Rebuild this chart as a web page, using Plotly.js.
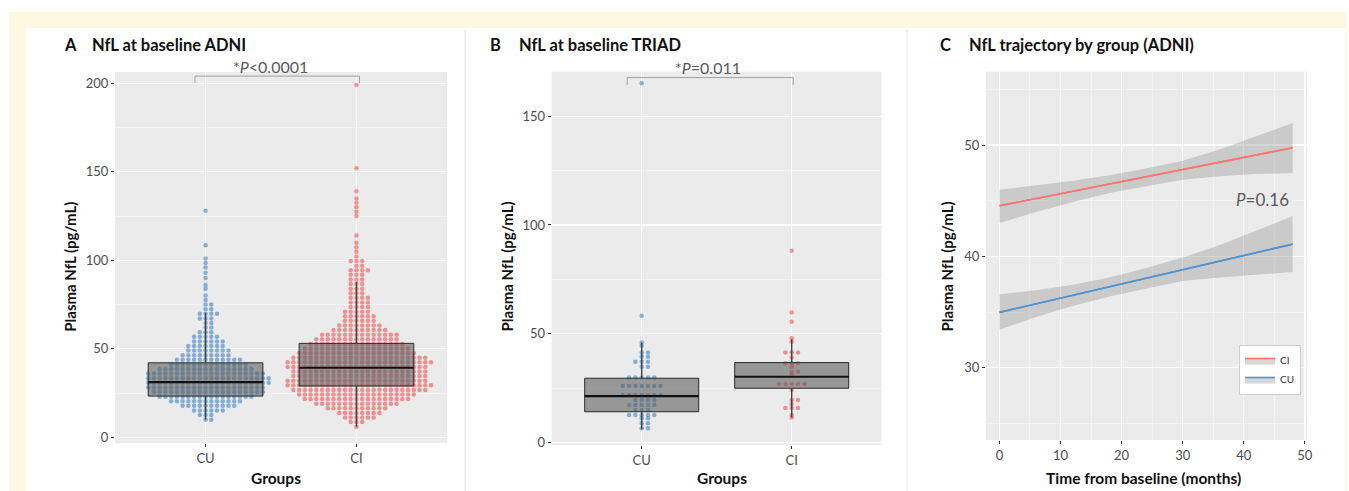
<!DOCTYPE html>
<html><head><meta charset="utf-8">
<script src="https://cdn.plot.ly/plotly-3.0.1.min.js"></script>
<style>html,body{margin:0;padding:0;background:#fff;} #chart{width:1349px;height:491px;}</style>
</head><body><div id="chart"></div>
<script>
// ---------- data ----------
const groups = ['CU', 'CI'];

// Panel A (ADNI) dot rows: value level and number of dots in that row
const cuALevels = [10, 12.6, 15.2, 17.8, 20.4, 23, 25.6, 28.2, 30.8, 33.4, 36, 38.6, 41.2, 43.8, 46.4, 49, 51.6, 54.2, 56.8, 59.4, 62, 64.6, 67.2, 69.8, 72.4, 75, 77.6, 80.2, 84, 86, 90, 93, 96, 98.5, 101, 108.5, 128];
const cuACounts = [2, 3, 6, 10, 13, 17, 20, 21, 22, 22, 21, 17, 14, 12, 9, 8, 7, 6, 5, 3, 2, 2, 3, 4, 2, 2, 1, 1, 1, 1, 1, 1, 1, 1, 1, 1, 1];
const ciALevels = [6, 8.6, 11.2, 13.8, 16.4, 19, 21.6, 24.2, 26.8, 29.4, 32, 34.6, 37.2, 39.8, 42.4, 45, 47.6, 50.2, 52.8, 55.4, 58, 60.6, 63.2, 65.8, 68.4, 71, 73.6, 76.2, 78.8, 81.4, 84, 86.6, 89.2, 91.8, 94.4, 97, 99.6, 102.2, 104.8, 107.4, 110, 114, 125, 127.5, 130, 132.5, 135, 139, 152, 199];
const ciACounts = [1, 3, 6, 8, 11, 15, 19, 21, 24, 26, 25, 24, 24, 25, 26, 24, 21, 19, 17, 15, 14, 10, 8, 6, 6, 5, 4, 4, 4, 3, 3, 3, 3, 3, 4, 2, 3, 1, 1, 1, 1, 1, 1, 1, 1, 1, 1, 1, 1, 1];
// box statistics A (CU, CI)
const aQ1 = [23.3, 29.0], aMed = [31.2, 39.3], aQ3 = [42.1, 53.1], aLo = [10.0, 6.0], aHi = [70.5, 87.9];

// Panel B (TRIAD)
const cuBLevels = [6.5, 8.8, 11.1, 12.6, 14.9, 17.2, 19.5, 21.8, 25.9, 29.8, 34.8, 37.1, 39.4, 41.4, 44.5, 46.0, 58.3, 165.2];
const cuBCounts = [2, 2, 2, 5, 3, 5, 4, 7, 7, 5, 2, 3, 2, 2, 1, 1, 1, 1];
const ciBLevels = [11.5, 12.6, 15.8, 17.7, 19.5, 24.1, 26.9, 31.0, 32.5, 34.8, 36.4, 39.1, 41.3, 46.3, 47.9, 55.5, 59.8, 88.2];
const ciBCounts = [1, 1, 3, 1, 2, 1, 5, 1, 2, 1, 3, 1, 3, 1, 1, 1, 1, 1];
const bQ1 = [14.1, 24.9], bMed = [21.3, 30.2], bQ3 = [29.5, 36.7], bLo = [6.0, 11.5], bHi = [45.8, 47.4];

// Panel C (trajectory)
const months = [0, 6, 12, 18, 24, 30, 36, 42, 48];
const ciFit = [44.55, 45.2, 45.85, 46.5, 47.15, 47.8, 48.45, 49.1, 49.76];
const ciUpper = [46.0, 46.4, 46.8, 47.3, 47.9, 48.6, 49.6, 50.8, 52.0];
const ciLower = [43.0, 44.0, 44.9, 45.7, 46.3, 46.9, 47.2, 47.4, 47.5];
const cuFit = [34.97, 35.74, 36.5, 37.27, 38.03, 38.8, 39.57, 40.33, 41.1];
const cuUpper = [36.6, 36.95, 37.45, 38.1, 38.95, 39.9, 41.0, 42.3, 43.6];
const cuLower = [33.4, 34.55, 35.55, 36.4, 37.1, 37.8, 38.1, 38.35, 38.6];

// ---------- styles ----------
const W = 1349, H = 491;
const RED = '#F8766D', BLUE = '#4F93CF';
const PT_RED = 'rgba(240,84,84,0.6)', PT_BLUE = 'rgba(62,132,200,0.6)';
const FONT = 'Lato, "Open Sans", sans-serif';
const dom = (a, b) => [a / W, b / W];
const domY = (top, bot) => [1 - bot / H, 1 - top / H];

function swarm(levels, counts, center, step) {
  const xs = [], ys = [];
  levels.forEach((v, i) => {
    for (let k = 0; k < counts[i]; k++) {
      const m = k === 0 ? 0 : (k % 2 === 1 ? (k + 1) / 2 : -k / 2);
      xs.push(center + m * step); ys.push(v);
    }
  });
  return {xs, ys};
}

function pointTrace(levels, counts, center, step, color, xa, ya) {
  const s = swarm(levels, counts, center, step);
  return {type: 'scatter', mode: 'markers', x: s.xs, y: s.ys, xaxis: xa, yaxis: ya,
    marker: {size: 4.5, color: color, line: {width: 0}}, showlegend: false, hoverinfo: 'skip'};
}

function boxTraces(q1, med, q3, lo, hi, xa, ya) {
  const hw = 0.38, out = [];
  q1.forEach((_, i) => {
    const c = i + 1;
    out.push({type: 'scatter', mode: 'lines', xaxis: xa, yaxis: ya, showlegend: false, hoverinfo: 'skip',
      x: [c - hw, c + hw, c + hw, c - hw, c - hw], y: [q1[i], q1[i], q3[i], q3[i], q1[i]],
      fill: 'toself', fillcolor: 'rgba(95,95,95,0.6)', line: {color: '#2b2b2b', width: 1}});
    out.push({type: 'scatter', mode: 'lines', xaxis: xa, yaxis: ya, showlegend: false, hoverinfo: 'skip',
      x: [c, c, null, c, c], y: [q3[i], hi[i], null, q1[i], lo[i]], line: {color: '#444', width: 1.4}});
    out.push({type: 'scatter', mode: 'lines', xaxis: xa, yaxis: ya, showlegend: false, hoverinfo: 'skip',
      x: [c - hw, c + hw], y: [med[i], med[i]], line: {color: '#111', width: 2.2}});
  });
  return out;
}

const data = [];
// A
data.push(pointTrace(cuALevels, cuACounts, 1, 0.038, PT_BLUE, 'x', 'y'));
data.push(pointTrace(ciALevels, ciACounts, 2, 0.038, PT_RED, 'x', 'y'));
data.push(...boxTraces(aQ1, aMed, aQ3, aLo, aHi, 'x', 'y'));
// B
data.push(pointTrace(cuBLevels, cuBCounts, 1, 0.042, PT_BLUE, 'x2', 'y2'));
data.push(pointTrace(ciBLevels, ciBCounts, 2, 0.042, PT_RED, 'x2', 'y2'));
data.push(...boxTraces(bQ1, bMed, bQ3, bLo, bHi, 'x2', 'y2'));
// C
const BAND = 'rgba(153,153,153,0.4)';
function band(name, fit, up, lowv, color) {
  return [
    {type: 'scatter', mode: 'lines', x: months, y: up, xaxis: 'x3', yaxis: 'y3', line: {width: 0}, showlegend: false, hoverinfo: 'skip'},
    {type: 'scatter', mode: 'lines', x: months, y: fit, xaxis: 'x3', yaxis: 'y3', name: name, fill: 'tonexty', fillcolor: BAND, line: {color: color, width: 1.6}},
    {type: 'scatter', mode: 'lines', x: months, y: lowv, xaxis: 'x3', yaxis: 'y3', fill: 'tonexty', fillcolor: BAND, line: {width: 0}, showlegend: false, hoverinfo: 'skip'}
  ];
}
data.push(...band('CI', ciFit, ciUpper, ciLower, RED));
data.push(...band('CU', cuFit, cuUpper, cuLower, BLUE));
data.push({type: 'scatter', mode: 'lines', x: months, y: ciFit, xaxis: 'x3', yaxis: 'y3', line: {color: RED, width: 1.6}, showlegend: false});
data.push({type: 'scatter', mode: 'lines', x: months, y: cuFit, xaxis: 'x3', yaxis: 'y3', line: {color: BLUE, width: 1.6}, showlegend: false});

const tickFont = {family: FONT, size: 13, color: '#4D4D4D'};
const MINOR = {showgrid: true, gridcolor: '#F6F6F6', gridwidth: 0.7, ticks: ''};
function baseAxis(extra) {
  return Object.assign({showline: false, zeroline: false, showgrid: true, ticks: 'outside', ticklen: 3, tickcolor: '#333', tickwidth: 1,
    gridcolor: '#FFFFFF', gridwidth: 1.3, tickfont: tickFont, automargin: false, fixedrange: true}, extra);
}
const catX = (d) => baseAxis({domain: d, range: [0.4, 2.6], tickmode: 'array', tickvals: [1, 2], ticktext: groups});

const layout = {
  width: W, height: H, margin: {l: 0, r: 0, t: 0, b: 0},
  paper_bgcolor: '#FFFFFF', plot_bgcolor: '#EBEBEB',
  font: {family: FONT},
  xaxis: Object.assign(catX(dom(115, 447)), {anchor: 'y'}),
  yaxis: baseAxis({domain: domY(72, 443), range: [-3.2, 206.4], tickmode: 'linear', tick0: 0, dtick: 50, anchor: 'x',
    minor: Object.assign({tick0: 25, dtick: 50}, MINOR)}),
  xaxis2: Object.assign(catX(dom(551.7, 881.7)), {anchor: 'y2'}),
  yaxis2: baseAxis({domain: domY(71.7, 445), range: [-1.2, 170.5], tickmode: 'linear', tick0: 0, dtick: 50, anchor: 'x2',
    minor: Object.assign({tick0: 25, dtick: 50}, MINOR)}),
  xaxis3: baseAxis({domain: dom(986, 1307.3), range: [-2.2, 50.4], tickmode: 'linear', tick0: 0, dtick: 10, anchor: 'y3',
    minor: Object.assign({tick0: 5, dtick: 10}, MINOR)}),
  yaxis3: baseAxis({domain: domY(71.7, 440), range: [23.5, 56.6], tickmode: 'array', tickvals: [30, 40, 50], anchor: 'x3',
    minor: Object.assign({tickvals: [25, 35, 45, 55]}, MINOR)}),
  showlegend: true,
  legend: {x: 1239 / W, y: 1 - 345 / H, xanchor: 'left', yanchor: 'top', bgcolor: '#FFFFFF', bordercolor: '#CFCFCF', borderwidth: 1,
    font: {family: FONT, size: 10, color: '#333'}, itemwidth: 30, traceorder: 'normal', tracegroupgap: 0},
  shapes: [
    // pale frame (kept clear of the plot areas)
    {type: 'rect', xref: 'paper', yref: 'paper', x0: 9 / W, x1: 1347 / W, y0: 1 - 28 / H, y1: 1 - 12 / H, fillcolor: '#FEF8E3', line: {width: 0}},
    {type: 'rect', xref: 'paper', yref: 'paper', x0: 9 / W, x1: 25.5 / W, y0: 0, y1: 1 - 28 / H, fillcolor: '#FEF8E3', line: {width: 0}},
    {type: 'rect', xref: 'paper', yref: 'paper', x0: 1345 / W, x1: 1347 / W, y0: 0, y1: 1 - 28 / H, fillcolor: '#FEF8E3', line: {width: 0}},
    {type: 'line', xref: 'paper', yref: 'paper', x0: 465 / W, x1: 465 / W, y0: 0, y1: 1 - 30 / H, line: {color: '#E4E4E4', width: 1}},
    {type: 'line', xref: 'paper', yref: 'paper', x0: 907 / W, x1: 907 / W, y0: 0, y1: 1 - 30 / H, line: {color: '#E4E4E4', width: 1}},
    // significance brackets
    {type: 'path', xref: 'x', yref: 'y', path: 'M0.93,200.2 L0.93,204.1 L2.02,204.1 L2.02,200.2', line: {color: '#A0A0A0', width: 1}},
    {type: 'path', xref: 'x2', yref: 'y2', path: 'M0.903,164.4 L0.903,167.8 L2.01,167.8 L2.01,164.4', line: {color: '#A0A0A0', width: 1}}
  ],
  annotations: []
};

const ann = layout.annotations;
function txt(text, x, y, opts) {
  ann.push(Object.assign({text: text, xref: 'paper', yref: 'paper', x: x / W, y: 1 - y / H, showarrow: false,
    xanchor: 'left', yanchor: 'middle', font: {family: FONT, size: 16.5, color: '#111'}}, opts || {}));
}
// panel titles
txt('<b>A</b>', 62, 45); txt('<b>NfL at baseline ADNI</b>', 90, 45);
txt('<b>B</b>', 487.5, 45); txt('<b>NfL at baseline TRIAD</b>', 516.5, 45);
txt('<b>C</b>', 937.5, 45); txt('<b>NfL trajectory by group (ADNI)</b>', 966.5, 45);
// axis titles
const axT = {family: FONT, size: 15, color: '#111'};
const axX = {family: FONT, size: 15.5, color: '#111'};
[70, 506.7, 946.7].forEach(xp => txt('<b>Plasma NfL (pg/mL)</b>', xp, 266.7, {xanchor: 'center', textangle: -90, font: axT}));
txt('<b>Groups</b>', 276, 478, {xanchor: 'center', font: axX});
txt('<b>Groups</b>', 721.7, 478, {xanchor: 'center', font: axX});
txt('<b>Time from baseline (months)</b>', 1143.3, 478, {xanchor: 'center', font: axX});
// p values
const pF = {family: FONT, size: 16, color: '#5A5A5A'};
txt('*<i>P</i>&lt;0.0001', 270, 66.5, {xanchor: 'center', font: pF});
txt('*<i>P</i>=0.011', 708.3, 68, {xanchor: 'center', font: pF});
txt('<i>P</i>=0.16', 1262, 199, {xanchor: 'center', font: {family: FONT, size: 17, color: '#5A5A5A'}});

Plotly.newPlot('chart', data, layout, {displayModeBar: false, staticPlot: true});
</script></body></html>
